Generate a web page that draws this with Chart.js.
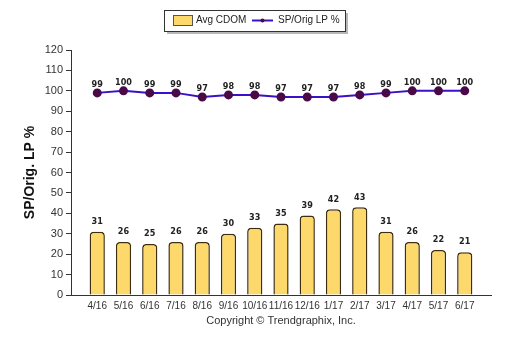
<!DOCTYPE html>
<html>
<head>
<meta charset="utf-8">
<script src="https://cdn.jsdelivr.net/npm/chart.js@4.4.1/dist/chart.umd.min.js"></script>
<style>
  html, body { margin: 0; padding: 0; background: #fff; }
  #wrap { width: 510px; height: 339px; }
</style>
</head>
<body>
<div id="wrap"><canvas id="cdomChart" width="510" height="339"></canvas></div>
<script>
const months = ["4/16", "5/16", "6/16", "7/16", "8/16", "9/16", "10/16", "11/16", "12/16", "1/17", "2/17", "3/17", "4/17", "5/17", "6/17"];
const avgCdom = [31, 26, 25, 26, 26, 30, 33, 35, 39, 42, 43, 31, 26, 22, 21];
const spOrigLp = [99, 100, 99, 99, 97, 98, 98, 97, 97, 97, 98, 99, 100, 100, 100];
const yTicks = [0, 10, 20, 30, 40, 50, 60, 70, 80, 90, 100, 110, 120];

// blank slot on each side so the axis runs past the first/last month
const pad = (arr) => [null].concat(arr, [null]);

const barFill = "#FDD86A";
const barEdge = "#3d2e12";
const lineColor = "#3a10c8";
const pointColor = "#4a0a48";
const fontFam = "'Liberation Sans', Arial, sans-serif";

// values above bars and points
const valueLabels = {
  id: "valueLabels",
  afterDatasetsDraw(chart) {
    const c = chart.ctx;
    c.save();
    c.font = "bold 9px 'DejaVu Sans Condensed', 'Liberation Sans', Arial, sans-serif";
    c.fillStyle = "#222";
    c.textAlign = "center";
    c.textBaseline = "middle";
    chart.data.datasets.forEach((ds, di) => {
      const meta = chart.getDatasetMeta(di);
      meta.data.forEach((el, i) => {
        const v = ds.data[i];
        if (v == null) return;
        const off = ds.type === "line" ? 8 : 10;
        c.fillText(String(v), el.x, el.y - off);
      });
    });
    c.restore();
  }
};

// boxed legend like the original
const boxLegend = {
  id: "boxLegend",
  afterDraw(chart) {
    const c = chart.ctx;
    const x = 164, y = 10, w = 181, h = 21;
    c.save();
    c.fillStyle = "#b8b8b8";
    c.fillRect(x + 3, y + 3, w, h);
    c.fillStyle = "#fff";
    c.fillRect(x, y, w, h);
    c.strokeStyle = "#333";
    c.lineWidth = 1;
    c.strokeRect(x + 0.5, y + 0.5, w, h);

    c.fillStyle = barFill;
    c.fillRect(173, 15, 19, 10);
    c.strokeStyle = "#555";
    c.strokeRect(173.5, 15.5, 19, 10);
    c.font = "10px " + fontFam;
    c.fillStyle = "#222";
    c.textBaseline = "middle";
    c.textAlign = "left";
    c.fillText("Avg CDOM", 196, 20.5);

    c.strokeStyle = lineColor;
    c.lineWidth = 2;
    c.beginPath();
    c.moveTo(252, 20.5);
    c.lineTo(273, 20.5);
    c.stroke();
    c.fillStyle = pointColor;
    c.beginPath();
    c.arc(262.5, 20.5, 2, 0, Math.PI * 2);
    c.fill();
    c.fillStyle = "#222";
    c.fillText("SP/Orig LP %", 278, 20.5);
    c.restore();
  }
};

new Chart(document.getElementById("cdomChart"), {
  data: {
    labels: pad(months),
    datasets: [
      {
        type: "line",
        label: "SP/Orig LP %",
        data: pad(spOrigLp),
        borderColor: lineColor,
        borderWidth: 2,
        pointBackgroundColor: pointColor,
        pointBorderColor: pointColor,
        pointRadius: 3.5,
        tension: 0,
        order: 0,
      },
      {
        type: "bar",
        label: "Avg CDOM",
        data: pad(avgCdom),
        backgroundColor: barFill,
        borderColor: barEdge,
        borderWidth: 1.5,
        borderSkipped: "bottom",
        borderRadius: { topLeft: 4, topRight: 4 },
        barPercentage: 0.58,
        categoryPercentage: 1,
        order: 1,
      },
    ],
  },
  options: {
    responsive: false,
    animation: false,
    layout: { padding: { top: 50, right: 19, left: 0, bottom: 0 } },
    plugins: {
      legend: { display: false },
      tooltip: { enabled: false },
    },
    scales: {
      x: {
        offset: false,
        grid: { display: false, drawOnChartArea: false, tickLength: 5, color: "#333", tickColor: "#333" },
        border: { color: "#333", width: 1 },
        ticks: {
          autoSkip: false,
          maxRotation: 0,
          color: "#333",
          padding: 0,
          font: { family: fontFam, size: 10 },
        },
        title: {
          display: true,
          text: "Copyright © Trendgraphix, Inc.",
          color: "#333",
          font: { family: fontFam, size: 11 },
          padding: { top: 0, bottom: 11 },
        },
        afterFit(scale) { scale.height = 44; },
      },
      y: {
        min: 0,
        max: 120,
        afterBuildTicks(scale) { scale.ticks = yTicks.map((v) => ({ value: v })); },
        grid: { drawOnChartArea: false, tickLength: 5, tickColor: "#333" },
        border: { color: "#333", width: 1 },
        ticks: {
          color: "#333",
          padding: 3,
          font: { family: fontFam, size: 11 },
        },
        title: {
          display: true,
          text: "SP/Orig. LP %",
          color: "#111",
          font: { family: fontFam, size: 14, weight: "bold" },
          padding: { top: 22, bottom: 0 },
        },
        afterFit(scale) { scale.width = 71; },
      },
    },
  },
  plugins: [valueLabels, boxLegend],
});
</script>
</body>
</html>
